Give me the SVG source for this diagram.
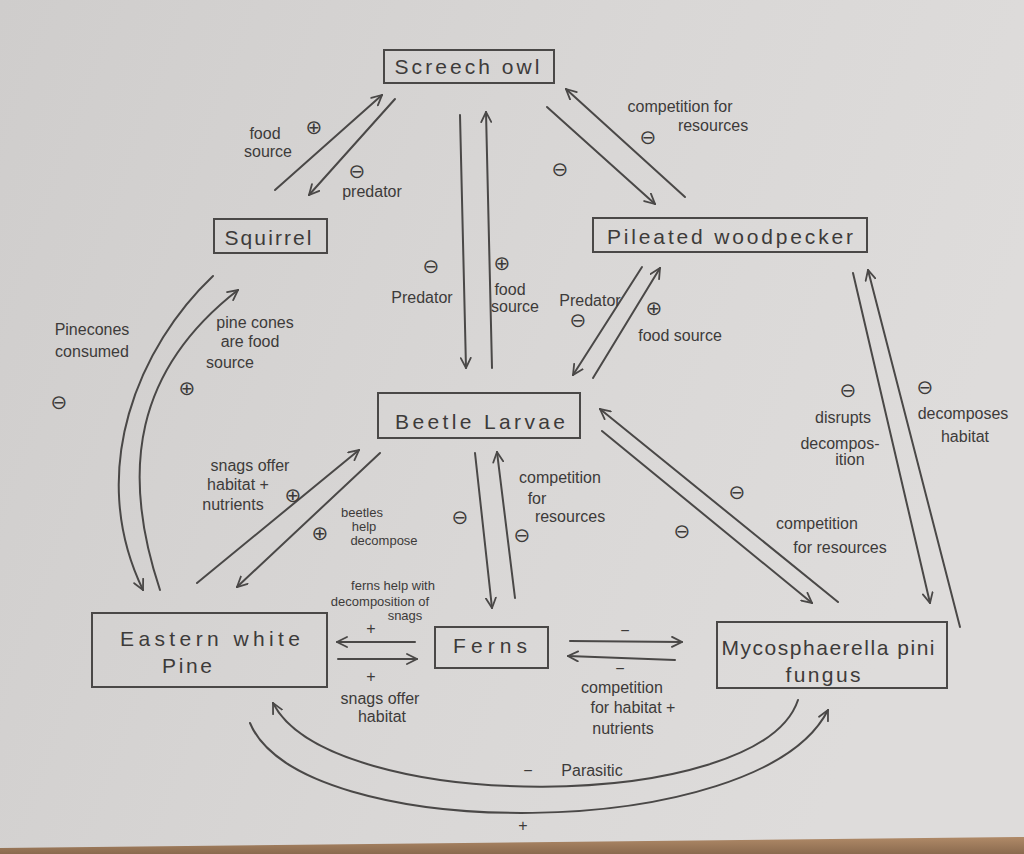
<svg xmlns="http://www.w3.org/2000/svg" width="1024" height="854" viewBox="0 0 1024 854">
<defs>
<linearGradient id="paper" x1="0" y1="0" x2="1" y2="0.3">
<stop offset="0" stop-color="#cfcdcc"/>
<stop offset="0.6" stop-color="#d9d7d6"/>
<stop offset="1" stop-color="#dedcdb"/>
</linearGradient>
<linearGradient id="wood" x1="0" y1="0" x2="0" y2="1">
<stop offset="0" stop-color="#b08a68"/>
<stop offset="1" stop-color="#8a6a4e"/>
</linearGradient>
<marker id="ah" viewBox="0 0 12 12" refX="11" refY="6" markerWidth="12" markerHeight="12" markerUnits="userSpaceOnUse" orient="auto">
<path d="M1,1 L11,6 L1,11" fill="none" stroke="#4a4847" stroke-width="1.8" stroke-linecap="round"/>
</marker>
<style>
.ln{fill:none;stroke:#4a4847;stroke-width:2;stroke-linecap:round}
.ar{marker-end:url(#ah)}
.box{fill:none;stroke:#4a4847;stroke-width:2}
.nt{font-family:"Liberation Sans","DejaVu Sans",sans-serif;font-size:21px;fill:#3d3b3a;text-anchor:middle;dominant-baseline:central}
.el{font-family:"Liberation Sans","DejaVu Sans",sans-serif;font-size:16px;fill:#3d3b3a;text-anchor:middle;dominant-baseline:central}
.sm{font-size:13px}
.sg{font-family:"DejaVu Sans",sans-serif;font-size:20px;fill:#3d3b3a;text-anchor:middle;dominant-baseline:central}
</style>
</defs>
<rect x="0" y="0" width="1024" height="854" fill="url(#paper)"/>
<path d="M0,848 L1024,837 L1024,854 L0,854 Z" fill="url(#wood)"/>

<g id="connectors">
<path class="ln ar" d="M275,190 L382,95"/>
<path class="ln ar" d="M395,99 L309,195"/>
<path class="ln ar" d="M460,115 L466,368"/>
<path class="ln ar" d="M492,368 L486,112"/>
<path class="ln ar" d="M547,107 L655,204"/>
<path class="ln ar" d="M685,197 L566,89"/>
<path class="ln ar" d="M642,267 L573,375"/>
<path class="ln ar" d="M593,378 L660,268"/>
<path class="ln ar" d="M213,276 C140,345 85,470 143,590"/>
<path class="ln ar" d="M160,590 C120,470 135,370 238,290"/>
<path class="ln ar" d="M197,583 L359,450"/>
<path class="ln ar" d="M380,453 L237,587"/>
<path class="ln ar" d="M475,453 L492,608"/>
<path class="ln ar" d="M515,598 L497,452"/>
<path class="ln ar" d="M838,602 L600,409"/>
<path class="ln ar" d="M602,431 L812,603"/>
<path class="ln ar" d="M853,273 L930,603"/>
<path class="ln ar" d="M960,627 L868,270"/>
<path class="ln ar" d="M415,642 L337,642"/>
<path class="ln ar" d="M338,659 L417,659"/>
<path class="ln ar" d="M570,641 L682,642"/>
<path class="ln ar" d="M675,660 L568,656"/>
<path class="ln ar" d="M798,700 C760,815 330,815 273,703"/>
<path class="ln ar" d="M250,723 C300,845 760,845 828,710"/>

<text class="el" x="265" y="133">food</text>
<text class="el" x="268" y="151">source</text>
<text class="sg" x="314" y="127">⊕</text>
<text class="sg" x="357" y="171">⊖</text>
<text class="el" x="372" y="191">predator</text>

<text class="el" x="680" y="106">competition for</text>
<text class="el" x="713" y="125">resources</text>
<text class="sg" x="648" y="137">⊖</text>
<text class="sg" x="560" y="169">⊖</text>

<text class="sg" x="431" y="266">⊖</text>
<text class="el" x="422" y="297">Predator</text>
<text class="sg" x="502" y="263">⊕</text>
<text class="el" x="510" y="289">food</text>
<text class="el" x="515" y="306">source</text>

<text class="el" x="590" y="300">Predator</text>
<text class="sg" x="578" y="320">⊖</text>
<text class="sg" x="654" y="308">⊕</text>
<text class="el" x="680" y="335">food source</text>

<text class="el" x="92" y="329">Pinecones</text>
<text class="el" x="92" y="351">consumed</text>
<text class="sg" x="59" y="402">⊖</text>
<text class="el" x="255" y="322">pine cones</text>
<text class="el" x="250" y="341">are food</text>
<text class="el" x="230" y="362">source</text>
<text class="sg" x="187" y="388">⊕</text>

<text class="el" x="250" y="465">snags offer</text>
<text class="el" x="238" y="484">habitat +</text>
<text class="el" x="233" y="504">nutrients</text>
<text class="sg" x="293" y="495">⊕</text>
<text class="sg" x="320" y="533">⊕</text>
<text class="el sm" x="362" y="512">beetles</text>
<text class="el sm" x="364" y="526">help</text>
<text class="el sm" x="384" y="540">decompose</text>

<text class="el" x="560" y="477">competition</text>
<text class="el" x="537" y="498">for</text>
<text class="el" x="570" y="516">resources</text>
<text class="sg" x="460" y="517">⊖</text>
<text class="sg" x="522" y="535">⊖</text>

<text class="sg" x="737" y="492">⊖</text>
<text class="sg" x="682" y="531">⊖</text>
<text class="el" x="817" y="523">competition</text>
<text class="el" x="840" y="547">for resources</text>

<text class="sg" x="848" y="390">⊖</text>
<text class="el" x="843" y="417">disrupts</text>
<text class="el" x="840" y="443">decompos-</text>
<text class="el" x="850" y="459">ition</text>
<text class="sg" x="925" y="387">⊖</text>
<text class="el" x="963" y="413">decomposes</text>
<text class="el" x="965" y="436">habitat</text>

<text class="el sm" x="393" y="585">ferns help with</text>
<text class="el sm" x="380" y="601">decomposition of</text>
<text class="el sm" x="405" y="615">snags</text>
<text class="el" x="371" y="628">+</text>
<text class="el" x="371" y="676">+</text>
<text class="el" x="380" y="698">snags offer</text>
<text class="el" x="382" y="716">habitat</text>

<text class="el" x="625" y="630">−</text>
<text class="el" x="620" y="668">−</text>
<text class="el" x="622" y="687">competition</text>
<text class="el" x="633" y="707">for habitat +</text>
<text class="el" x="623" y="728">nutrients</text>

<text class="el" x="528" y="770">−</text>
<text class="el" x="592" y="770">Parasitic</text>
<text class="el" x="523" y="825">+</text>
</g>

<g id="screech-owl">
<rect class="box" x="384" y="50" width="170" height="33"/>
<text class="nt" x="467" y="66" textLength="145" lengthAdjust="spacing">Screech owl</text>
</g>
<g id="squirrel">
<rect class="box" x="214" y="219" width="113" height="34"/>
<text class="nt" x="268" y="237" textLength="87" lengthAdjust="spacing">Squirrel</text>
</g>
<g id="pileated-woodpecker">
<rect class="box" x="593" y="218" width="274" height="34"/>
<text class="nt" x="730" y="236" textLength="246" lengthAdjust="spacing">Pileated woodpecker</text>
</g>
<g id="beetle-larvae">
<rect class="box" x="378" y="393" width="202" height="45"/>
<text class="nt" x="480" y="421" textLength="170" lengthAdjust="spacing">Beetle Larvae</text>
</g>
<g id="eastern-white-pine">
<rect class="box" x="92" y="613" width="235" height="74"/>
<text class="nt" x="210" y="638" textLength="180" lengthAdjust="spacing">Eastern white</text>
<text class="nt" x="187" y="665" textLength="50" lengthAdjust="spacing">Pine</text>
</g>
<g id="ferns">
<rect class="box" x="435" y="627" width="113" height="41"/>
<text class="nt" x="490" y="645" textLength="74" lengthAdjust="spacing">Ferns</text>
</g>
<g id="mycosphaerella-pini-fungus">
<rect class="box" x="717" y="622" width="230" height="66"/>
<text class="nt" x="828" y="647" textLength="213" lengthAdjust="spacing">Mycosphaerella pini</text>
<text class="nt" x="823" y="674" textLength="75" lengthAdjust="spacing">fungus</text>
</g>
</svg>
